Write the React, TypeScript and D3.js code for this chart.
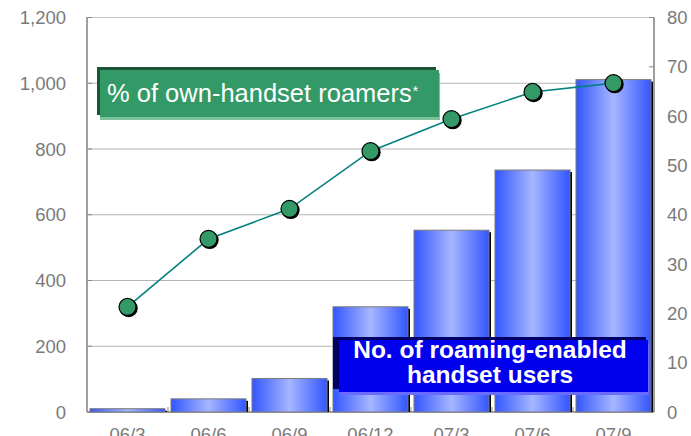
import React, { useEffect, useRef } from 'react';
import * as d3 from 'd3';

// quarters shown on the x axis
const periods = ['06/3', '06/6', '06/9', '06/12', '07/3', '07/6', '07/9'];
// no. of roaming-enabled handset users (left axis)
const users = [10, 40, 102, 320, 553, 736, 1011];
// % of own-handset roamers (right axis)
const ownShare = [21.3, 35.1, 41.2, 52.9, 59.4, 64.9, 66.7];
const leftTicks = [0, 200, 400, 600, 800, 1000, 1200];
const rightTicks = [0, 10, 20, 30, 40, 50, 60, 70, 80];

const W = 691;
const H = 436;
const margin = { top: 17.5, right: 37, bottom: 24, left: 87 };

const App = () => {
  const ref = useRef<SVGSVGElement>(null);

  useEffect(() => {
    const svg = d3.select(ref.current);
    svg.selectAll('*').remove();

    const x0 = margin.left;
    const x1 = W - margin.right;
    const y0 = H - margin.bottom;
    const y1 = margin.top;

    const x = d3.scaleBand().domain(periods).range([x0, x1]).paddingInner(0.074).paddingOuter(0.037);
    const yL = d3.scaleLinear().domain([0, 1200]).range([y0, y1]);
    const yR = d3.scaleLinear().domain([0, 80]).range([y0, y1]);

    const defs = svg.append('defs');
    const grad = defs.append('linearGradient').attr('id', 'barGrad').attr('x1', '0').attr('x2', '1').attr('y1', '0').attr('y2', '0');
    grad.append('stop').attr('offset', '0%').attr('stop-color', '#3356ff');
    grad.append('stop').attr('offset', '50%').attr('stop-color', '#a6b6ff');
    grad.append('stop').attr('offset', '100%').attr('stop-color', '#3356ff');

    const font = 'Liberation Sans, Arial, sans-serif';

    // gridlines
    svg.append('g')
      .selectAll('line')
      .data(leftTicks.filter(t => t > 0 && t < 1200))
      .join('line')
      .attr('x1', x0).attr('x2', x1)
      .attr('y1', d => yL(d)).attr('y2', d => yL(d))
      .attr('stroke', '#b4b4b4').attr('stroke-width', 1);

    // plot frame
    svg.append('rect')
      .attr('x', x0).attr('y', y1)
      .attr('width', x1 - x0).attr('height', y0 - y1)
      .attr('fill', 'none').attr('stroke', '#c8c8c8');
    svg.append('line').attr('x1', x0).attr('x2', x0).attr('y1', y1).attr('y2', y0).attr('stroke', '#888').attr('stroke-width', 1.5);
    svg.append('line').attr('x1', x1).attr('x2', x1).attr('y1', y1).attr('y2', y0).attr('stroke', '#888').attr('stroke-width', 1.5);
    svg.append('line').attr('x1', x0).attr('x2', x1).attr('y1', y0).attr('y2', y0).attr('stroke', '#888').attr('stroke-width', 1.5);

    // axis ticks + labels
    svg.append('g').selectAll('line').data(leftTicks).join('line')
      .attr('x1', x0).attr('x2', x0 + 5).attr('y1', d => yL(d)).attr('y2', d => yL(d)).attr('stroke', '#888');
    svg.append('g').selectAll('line').data(rightTicks).join('line')
      .attr('x1', x1 - 5).attr('x2', x1).attr('y1', d => yR(d)).attr('y2', d => yR(d)).attr('stroke', '#888');
    svg.append('g').selectAll('line').data(periods.slice(1)).join('line')
      .attr('x1', d => x(d)! - 3).attr('x2', d => x(d)! - 3).attr('y1', y0 - 5).attr('y2', y0).attr('stroke', '#888');

    svg.append('g').selectAll('text').data(leftTicks).join('text')
      .attr('x', 66).attr('y', d => yL(d)).attr('dy', '0.36em')
      .attr('text-anchor', 'end').attr('fill', '#7a7a7a')
      .style('font', `18.5px ${font}`)
      .text(d => d3.format(',')(d));
    svg.append('g').selectAll('text').data(rightTicks).join('text')
      .attr('x', 667).attr('y', d => yR(d)).attr('dy', '0.36em')
      .attr('fill', '#7a7a7a')
      .style('font', `18.5px ${font}`)
      .text(d => d);
    // x labels sit partly below the picture edge, as in the original
    svg.append('g').selectAll('text').data(periods).join('text')
      .attr('x', d => x(d)! + x.bandwidth() / 2).attr('y', 441)
      .attr('text-anchor', 'middle').attr('fill', '#7a7a7a')
      .style('font', `18.5px ${font}`)
      .text(d => d);

    // bars
    const bars = svg.append('g');
    bars.selectAll('rect.shadow').data(periods).join('rect')
      .attr('class', 'shadow')
      .attr('x', d => x(d)! + 2).attr('y', (d, i) => yL(users[i]) + 2)
      .attr('width', x.bandwidth()).attr('height', (d, i) => y0 - yL(users[i]) - 2)
      .attr('fill', '#000');
    bars.selectAll('rect.bar').data(periods).join('rect')
      .attr('class', 'bar')
      .attr('x', d => x(d)!).attr('y', (d, i) => yL(users[i]))
      .attr('width', x.bandwidth()).attr('height', (d, i) => y0 - yL(users[i]))
      .attr('fill', 'url(#barGrad)')
      .attr('stroke', '#7a7a7a').attr('stroke-width', 1);

    // line series
    const line = d3.line<number>()
      .x((d, i) => x(periods[i])! + x.bandwidth() / 2)
      .y(d => yR(d));
    svg.append('path').datum(ownShare)
      .attr('d', line)
      .attr('fill', 'none').attr('stroke', '#008080').attr('stroke-width', 1.6);
    const pts = svg.append('g');
    pts.selectAll('circle.sh').data(ownShare).join('circle')
      .attr('class', 'sh')
      .attr('cx', (d, i) => x(periods[i])! + x.bandwidth() / 2 + 1.2)
      .attr('cy', d => yR(d) + 1.2).attr('r', 9)
      .attr('fill', '#000');
    pts.selectAll('circle.pt').data(ownShare).join('circle')
      .attr('class', 'pt')
      .attr('cx', (d, i) => x(periods[i])! + x.bandwidth() / 2)
      .attr('cy', d => yR(d)).attr('r', 8.5)
      .attr('fill', '#339966').attr('stroke', '#000').attr('stroke-width', 1.2);

    // green label
    const g1 = svg.append('g');
    g1.append('rect').attr('x', 100).attr('y', 73).attr('width', 340).attr('height', 47).attr('fill', '#7cc39d');
    g1.append('rect').attr('x', 97).attr('y', 67).attr('width', 339).attr('height', 48).attr('fill', '#1c5535');
    g1.append('rect').attr('x', 100).attr('y', 70).attr('width', 339).attr('height', 47).attr('fill', '#339966');
    const t1 = g1.append('text').attr('x', 107).attr('y', 102).attr('fill', '#fff')
      .style('font', `25.5px ${font}`);
    t1.append('tspan').text('% of own-handset roamers');
    t1.append('tspan').attr('dy', -6).attr('dx', 1).style('font-size', '14px').text('*');

    // blue label
    const g2 = svg.append('g');
    g2.append('rect').attr('x', 340).attr('y', 343).attr('width', 309).attr('height', 52).attr('fill', '#6b6bff');
    g2.append('rect').attr('x', 333).attr('y', 337).attr('width', 313).attr('height', 52).attr('fill', '#000066');
    g2.append('rect').attr('x', 339).attr('y', 340).attr('width', 309).attr('height', 52).attr('fill', '#0000ee');
    g2.append('text').attr('x', 490).attr('y', 358).attr('text-anchor', 'middle').attr('fill', '#fff')
      .style('font', `bold 24.5px ${font}`).text('No. of roaming-enabled');
    g2.append('text').attr('x', 490).attr('y', 383).attr('text-anchor', 'middle').attr('fill', '#fff')
      .style('font', `bold 24.5px ${font}`).text('handset users');
  }, []);

  return (
    <div style={{ position: 'absolute', left: 0, top: 0, background: '#fff' }}>
      <svg ref={ref} width={W} height={H} style={{ display: 'block' }} />
    </div>
  );
};

export default App;
